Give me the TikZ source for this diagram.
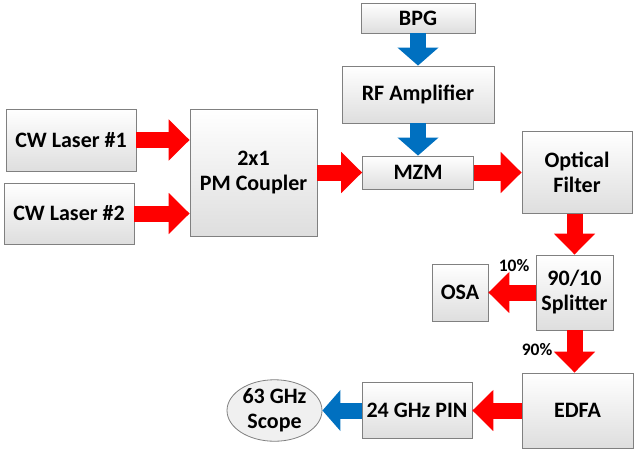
\documentclass[tikz,border=0pt]{standalone}
\usepackage{fontspec}
\setmainfont{Carlito}
\usetikzlibrary{arrows.meta,shapes.geometric}
\definecolor{bordcolor}{RGB}{128,128,128}
\definecolor{boxbottom}{RGB}{222,222,222}
\definecolor{ovalfill}{RGB}{240,240,240}
\definecolor{redarrow}{RGB}{255,0,0}
\definecolor{bluearrow}{RGB}{0,112,192}

\begin{document}
\begin{tikzpicture}[yscale=-1
,bstyle/.style={draw=bordcolor,line width=0.8pt,top color=white,bottom color=boxbottom,align=center,inner sep=0pt,font=\fontsize{22}{25}\selectfont\bfseries}
,ostyle/.style={ellipse,draw=bordcolor,line width=0.8pt,fill=ovalfill,align=center,inner sep=0pt,font=\fontsize{22}{25}\selectfont\bfseries}
,rstyle/.style={color=redarrow,line width=16pt,-{Triangle[length=21pt,width=40pt]}}
,lstyle/.style={color=bluearrow,line width=16pt,-{Triangle[length=18pt,width=40pt]}}
,pstyle/.style={font=\fontsize{17.5}{20}\selectfont\bfseries}
]
\useasboundingbox (0pt,0pt) rectangle (634pt,452pt);
% boxes
\node[bstyle,minimum width=130pt,minimum height=62pt] (laser1) at (71pt,140pt) {CW Laser \#1};
\node[bstyle,minimum width=130pt,minimum height=61pt] (laser2) at (69pt,213.5pt) {CW Laser \#2};
\node[bstyle,minimum width=127pt,minimum height=127pt] (coupler) at (253.5pt,172.5pt) {2x1\\PM Coupler};
\node[bstyle,minimum width=114pt,minimum height=30pt] (bpg) at (418pt,18pt) {BPG};
\node[bstyle,minimum width=152pt,minimum height=57pt] (rfamp) at (418pt,94.5pt) {RF Amplifier};
\node[bstyle,minimum width=111pt,minimum height=33pt] (mzm) at (418pt,172.5pt) {MZM};
\node[bstyle,minimum width=110pt,minimum height=82pt] (filter) at (577pt,172.5pt) {Optical\\Filter};
\node[bstyle,minimum width=77pt,minimum height=75pt] (splitter) at (574.5pt,292.5pt) {90/10\\Splitter};
\node[bstyle,minimum width=56pt,minimum height=57pt] (osa) at (460pt,292.5pt) {OSA};
\node[bstyle,minimum width=111pt,minimum height=75pt] (edfa) at (577.5pt,410.5pt) {EDFA};
\node[bstyle,minimum width=110pt,minimum height=56pt] (pin) at (417pt,410.5pt) {24 GHz PIN};
\node[ostyle,minimum width=95pt,minimum height=60pt] (scope) at (274.5pt,410.5pt) {63 GHz\\Scope};
% split ratios
\node[pstyle] (ratio10) at (514pt,266pt) {10\%};
\node[pstyle] (ratio90) at (537pt,350pt) {90\%};
% optical path
\draw[rstyle] (laser1.east) -- (laser1.east -| coupler.west);
\draw[rstyle] (laser2.east) -- (laser2.east -| coupler.west);
\draw[rstyle] (coupler) -- (mzm);
\draw[rstyle] (mzm) -- (filter);
\draw[rstyle] (filter.south -| splitter) -- (splitter.north);
\draw[rstyle] (splitter) -- (osa);
\draw[rstyle] (splitter.south) -- (splitter.south |- edfa.north);
\draw[rstyle] (edfa) -- (pin);
% electrical path
\draw[lstyle] (bpg) -- (rfamp);
\draw[lstyle] (rfamp) -- (mzm);
\draw[lstyle] (pin) -- (scope);
\end{tikzpicture}
\end{document}
